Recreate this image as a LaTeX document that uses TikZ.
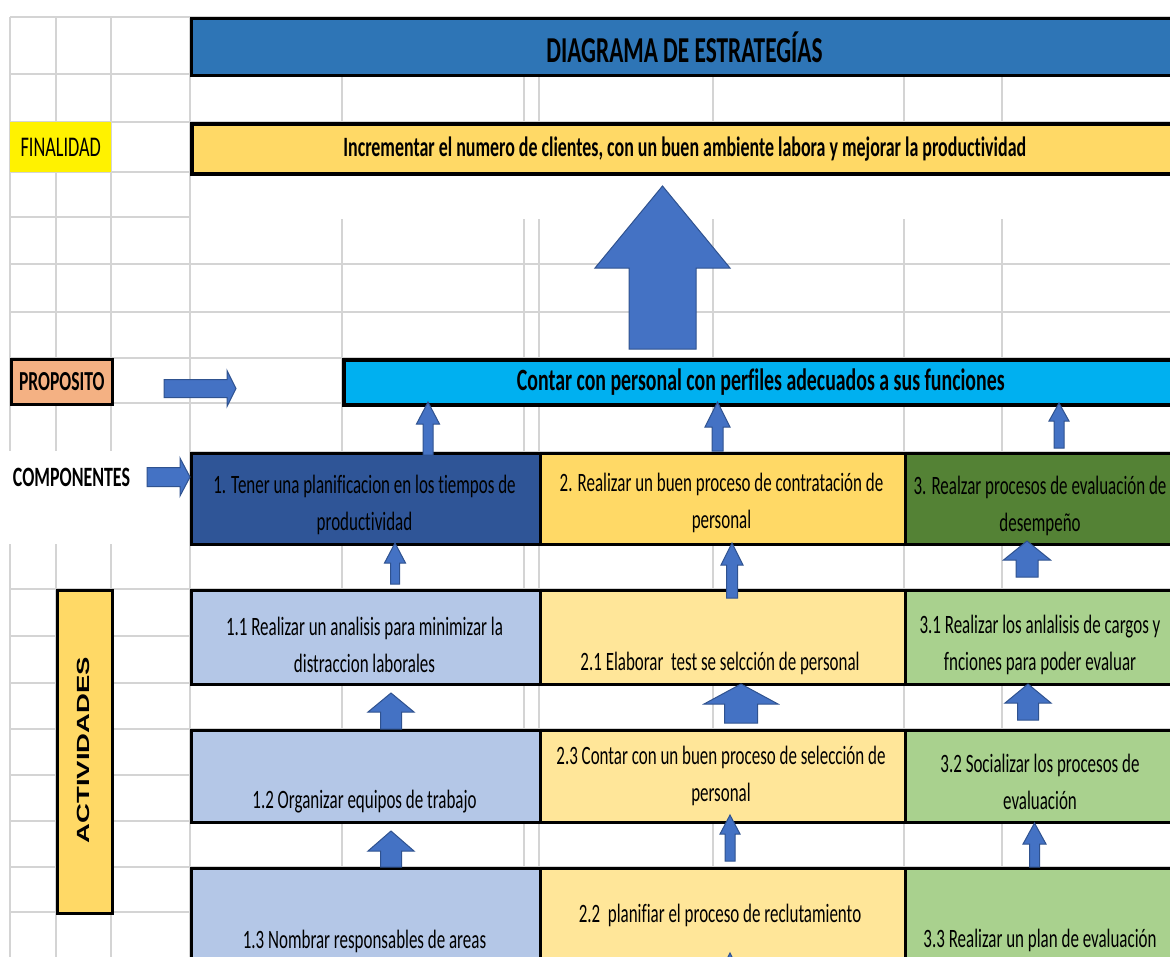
\documentclass[tikz,border=0pt]{standalone}
\usepackage{fontspec}
\newfontfamily\calfont[FakeStretch=0.64,Ligatures=NoCommon]{Carlito}
\newfontfamily\arialfont{Liberation Sans}
\definecolor{gridgray}{RGB}{212,212,212}
\definecolor{titleblue}{RGB}{46,117,182}
\definecolor{gold}{RGB}{255,217,102}
\definecolor{lightgold}{RGB}{255,230,153}
\definecolor{salmon}{RGB}{244,177,131}
\definecolor{skyblue}{RGB}{0,176,240}
\definecolor{navy}{RGB}{47,85,151}
\definecolor{darkgreen}{RGB}{84,130,53}
\definecolor{paleblue}{RGB}{180,199,231}
\definecolor{palegreen}{RGB}{169,209,142}
\definecolor{arrowfill}{RGB}{68,114,196}
\definecolor{arrowline}{RGB}{47,82,143}

% upward block arrow: centre x, tip y, head base y, tail y, head half width, shaft half width
\newcommand\blockup[6]{%
  \draw[blockarrow] (#1-#6,#4) -- (#1-#6,#3) -- (#1-#5,#3) -- (#1,#2)
    -- (#1+#5,#3) -- (#1+#6,#3) -- (#1+#6,#4) -- cycle;}
% rightward block arrow: tip x, centre y, head base x, tail x, head half height, shaft half height
\newcommand\blockright[6]{%
  \draw[blockarrow] (#4,#2-#6) -- (#3,#2-#6) -- (#3,#2-#5) -- (#1,#2)
    -- (#3,#2+#5) -- (#3,#2+#6) -- (#4,#2+#6) -- cycle;}

\begin{document}
\begin{tikzpicture}[x=1pt,y=-1pt,
  gridline/.style={draw=gridgray,line width=1.6pt},
  box/.style={draw=black,line width=2.6pt,inner sep=0pt,anchor=north west},
  blockarrow/.style={fill=arrowfill,draw=arrowline,line width=1pt,line join=miter},
  txt/.style={inner sep=0pt,align=center,font=\calfont\fontsize{26.5}{37}\selectfont},
  boldtxt/.style={font=\calfont\bfseries\fontsize{28}{32}\selectfont}]
\useasboundingbox (0,0) rectangle (1170,956);
\clip (0,0) rectangle (1170,956);

% worksheet grid
\foreach \y in {17,74,122,172,217,264,312,358,403,452,497,543,589,636,683,729,775,821,867,912}
  \draw[gridline] (10,\y) -- (1176,\y);
\foreach \x in {10,56,111,190,342,524,539,713,904,1002}
  \draw[gridline] (\x,17) -- (\x,960);
% merged cells show no inner lines
\fill[white] (191,173.5) rectangle (1176,218.5);
\fill[white] (8,451) rectangle (189,544);

% header rows
\node[box,line width=3pt,fill=titleblue,minimum width=986pt,minimum height=57pt,
  font=\calfont\bfseries\fontsize{36.5}{40}\selectfont] (title) at (190,17) {DIAGRAMA DE ESTRATEGÍAS};
\node[fill=yellow,inner sep=0pt,anchor=north west,minimum width=101pt,minimum height=50pt,
  font=\calfont\fontsize{28.5}{32}\selectfont] (finlab) at (10,122) {FINALIDAD};
\node[box,line width=3.5pt,fill=gold,minimum width=986pt,minimum height=50pt,boldtxt]
  (fin) at (190,122) {Incrementar el numero de clientes, con un buen ambiente labora y mejorar la productividad};

\node[box,line width=2.6pt,fill=salmon,minimum width=101pt,minimum height=45pt,
  font=\calfont\bfseries\fontsize{27.5}{32}\selectfont] (proplab) at (10,358) {PROPOSITO};
\node[box,line width=3.5pt,fill=skyblue,minimum width=834pt,minimum height=45pt,
  font=\calfont\bfseries\fontsize{31}{34}\selectfont] (prop) at (342,358) {Contar con personal con perfiles adecuados a sus funciones};

\node[boldtxt,inner sep=0pt] (complab) at (71.5,477) {COMPONENTES};

% components
\node[box,fill=navy,minimum width=349pt,minimum height=91pt] (c1) at (190,452) {};
\node[box,fill=gold,minimum width=365pt,minimum height=91pt] (c2) at (539,452) {};
\node[box,fill=darkgreen,minimum width=272pt,minimum height=91pt] (c3) at (904,452) {};

% activities
\node[box,fill=paleblue,minimum width=349pt,minimum height=94pt] (a11) at (190,589) {};
\node[box,fill=paleblue,minimum width=349pt,minimum height=92pt] (a12) at (190,729) {};
\node[box,fill=paleblue,minimum width=349pt,minimum height=110pt] (a13) at (190,867) {};
\node[box,fill=lightgold,minimum width=365pt,minimum height=94pt] (a21) at (539,589) {};
\node[box,fill=lightgold,minimum width=365pt,minimum height=92pt] (a23) at (539,729) {};
\node[box,fill=lightgold,minimum width=365pt,minimum height=110pt] (a22) at (539,867) {};
\node[box,fill=palegreen,minimum width=272pt,minimum height=94pt] (a31) at (904,589) {};
\node[box,fill=palegreen,minimum width=272pt,minimum height=92pt] (a32) at (904,729) {};
\node[box,fill=palegreen,minimum width=272pt,minimum height=110pt] (a33) at (904,867) {};

\node[box,fill=gold,minimum width=55pt,minimum height=323pt] (actlab) at (56,589) {};
\node[inner sep=0pt] (acttext) at (83.5,750)
  {\rotatebox{90}{\scalebox{1}[0.64]{\arialfont\bfseries\fontsize{27.5}{30}\selectfont ACTIVIDADES}}};

% texts
\node[txt] (c1t) at (364.5,504.5) {1. Tener una planificacion en los tiempos de\\productividad};
\node[txt] (c2t) at (721.5,503) {2. Realizar un buen proceso de contratación de\\personal};
\node[txt] (c3t) at (1040,506) {3. Realzar procesos de evaluación de\\desempeño};
\node[txt] (a11t) at (364.5,644.5) {1.1 Realizar un analisis para minimizar la\\distraccion laborales};
\node[txt] (a12t) at (364.5,802) {1.2 Organizar equipos de trabajo};
\node[txt] (a13t) at (364.5,941) {1.3 Nombrar responsables de areas};
\node[txt] (a21t) at (720,663) {2.1 Elaborar\ \ test se selcción de personal};
\node[txt] (a23t) at (721,776) {2.3 Contar con un buen proceso de selección de\\personal};
\node[txt] (a22t) at (720,915) {2.2\ \ planifiar el proceso de reclutamiento};
\node[txt] (a31t) at (1040,644.5) {3.1 Realizar los anlalisis de cargos y\\fnciones para poder evaluar};
\node[txt] (a32t) at (1040,782) {3.2 Socializar los procesos de\\evaluación};
\node[txt] (a33t) at (1040,940) {3.3 Realizar un plan de evaluación};

% block arrows
\blockup{662.5}{186}{268}{349}{67.5}{33.5}
\blockup{428}{402}{424}{455}{11.5}{5}
\blockup{717.5}{402}{427}{451}{12.5}{5.5}
\blockup{1059}{403}{421}{448}{10}{5}
\blockup{395}{543}{563}{584}{10.5}{4.5}
\blockup{391}{693}{712}{729}{23}{10.5}
\blockup{391}{831}{851}{867}{23}{10.5}
\blockup{732}{543}{565}{598}{11}{5.5}
\blockup{741}{684}{704}{723}{37}{16.5}
\blockup{730}{815}{834}{861}{10}{5}
\blockup{730}{953}{973}{1000}{10}{5}
\blockup{1027}{541}{560}{577}{23.5}{11}
\blockup{1028}{684}{703}{720}{23}{10.5}
\blockup{1034.5}{823}{844}{867}{11.5}{5}
\blockright{236}{388.5}{227}{164}{18}{9}
\blockright{190}{477}{180}{147}{19}{9.5}
\end{tikzpicture}
\end{document}
